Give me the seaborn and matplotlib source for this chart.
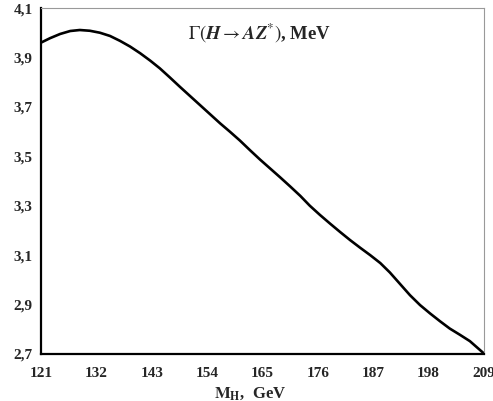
import numpy as np
import pandas as pd
import matplotlib
matplotlib.use("Agg")
import matplotlib.pyplot as plt
import seaborn as sns
from matplotlib.ticker import FuncFormatter

# Data
mass_gev = [121.0, 122.8, 124.8, 126.8, 128.7, 130.7, 132.7, 134.7, 136.7, 138.7,
            140.7, 142.7, 144.6, 146.6, 148.6, 150.6, 152.6, 154.6, 156.6, 158.5,
            160.5, 162.5, 164.5, 166.5, 168.5, 170.5, 172.5, 174.4, 176.4, 178.4,
            180.4, 182.4, 184.4, 186.4, 188.4, 190.3, 192.3, 194.3, 196.3, 198.3,
            200.3, 202.2, 204.2, 206.2, 209.0]
width_mev = [3.960, 3.978, 3.995, 4.007, 4.011, 4.008, 4.000, 3.987, 3.967, 3.944,
             3.917, 3.887, 3.856, 3.819, 3.781, 3.744, 3.707, 3.670, 3.633, 3.600,
             3.564, 3.525, 3.487, 3.451, 3.415, 3.378, 3.340, 3.300, 3.263, 3.228,
             3.194, 3.161, 3.130, 3.100, 3.068, 3.030, 2.984, 2.938, 2.898, 2.864,
             2.832, 2.803, 2.778, 2.752, 2.702]
x_ticks = [121, 132, 143, 154, 165, 176, 187, 198, 209]
y_ticks = [2.7, 2.9, 3.1, 3.3, 3.5, 3.7, 3.9, 4.1]

sns.set_style("white")
plt.rcParams["font.family"] = ["Liberation Serif", "DejaVu Serif"]
plt.rcParams["mathtext.fontset"] = "stix"

df = pd.DataFrame({"M": mass_gev, "G": width_mev})

fig = plt.figure(figsize=(4.93, 4.01), dpi=100)
ax = fig.add_axes([0.0832, 0.1172, 0.8985, 0.8628])

sns.lineplot(data=df, x="M", y="G", ax=ax, color="black", linewidth=1.9)

ax.set_xlim(121, 209)
ax.set_ylim(2.7, 4.1)
ax.set_xticks(x_ticks)
ax.set_yticks(y_ticks)
ax.yaxis.set_major_formatter(FuncFormatter(lambda v, p: f"{v:.1f}".replace(".", ",")))
ax.xaxis.set_major_formatter(FuncFormatter(lambda v, p: f"{int(round(v))}"))
ax.tick_params(axis="both", direction="in", length=4, width=1, color="black",
               labelsize=11)
ax.tick_params(axis="y", pad=6)
ax.tick_params(axis="x", pad=9)
for lab in ax.get_xticklabels() + ax.get_yticklabels():
    lab.set_fontweight("bold")

for s in ["left", "bottom"]:
    ax.spines[s].set_color("black")
    ax.spines[s].set_linewidth(1.6)
for s in ["top", "right"]:
    ax.spines[s].set_color("#999999")
    ax.spines[s].set_linewidth(0.8)

ax.set_xlabel(r"$\mathbf{M}_{\mathbf{H}}$,  GeV", fontsize=12, fontweight="bold")
ax.xaxis.set_label_coords(0.472, -0.09)
ax.set_ylabel("")

ax.text(0.494, 0.928, r"$\Gamma(\mathbfit{H} \rightarrow \mathbfit{AZ}^{*})$, MeV",
        transform=ax.transAxes, ha="center", va="center",
        fontsize=13.5, fontweight="bold")

fig.savefig("out.png", dpi=100)
